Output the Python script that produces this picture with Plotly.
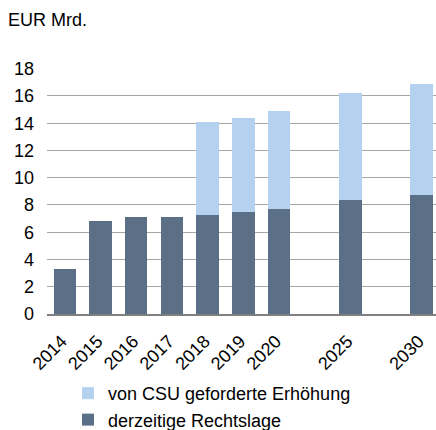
import plotly.graph_objects as go

categories = ["2014", "2015", "2016", "2017", "2018", "2019", "2020", " ", "2025", "  ", "2030"]
rechtslage = [3.3, 6.8, 7.1, 7.1, 7.3, 7.5, 7.7, None, 8.4, None, 8.7]
erhoehung = [None, None, None, None, 6.8, 6.9, 7.2, None, 7.8, None, 8.2]
y_ticks = [0, 2, 4, 6, 8, 10, 12, 14, 16, 18]

FONT = "Liberation Sans, Arial, sans-serif"
DARK = "#5B7086"
LIGHT = "#B4D2EF"

W, H = 436, 430
L, R, T, B = 47, 0, 68, 116
PW, PH = W - L - R, H - T - B

fig = go.Figure()
fig.add_trace(go.Bar(x=categories, y=rechtslage, name="derzeitige Rechtslage",
                     marker=dict(color=DARK, line=dict(width=0)), width=0.63))
fig.add_trace(go.Bar(x=categories, y=erhoehung, name="von CSU geforderte Erhöhung",
                     marker=dict(color=LIGHT, line=dict(width=0)), width=0.63))

fig.update_layout(
    barmode="stack",
    width=W, height=H,
    margin=dict(l=L, r=R, t=T, b=B, autoexpand=False),
    plot_bgcolor="white", paper_bgcolor="white",
    font=dict(family=FONT, size=18, color="#000000"),
    showlegend=True,
    legend=dict(x=(68 - L) / PW, y=-(375 - T - PH) / PH,
                xanchor="left", yanchor="top", traceorder="reversed",
                font=dict(size=18), itemwidth=30, tracegroupgap=0,
                bgcolor="rgba(0,0,0,0)"),
    annotations=[dict(text="EUR Mrd.", xref="paper", yref="paper",
                      x=-(L - 6) / PW, y=1 + (T - 32) / PH, xanchor="left", yanchor="bottom",
                      showarrow=False, font=dict(size=18, family=FONT))],
    xaxis=dict(type="category", categoryorder="array", categoryarray=categories,
               range=[-0.5, 10.4], tickangle=-45, showgrid=False,
               showline=True, linecolor="#808080", linewidth=1.5,
               ticks="", tickfont=dict(size=18), ticklabelstandoff=8, ticklabelshift=-3),
    yaxis=dict(range=[0, 18.05], tickvals=y_ticks, showgrid=True, gridcolor="#A6A6A6",
               gridwidth=1, zeroline=False, showline=False, ticks="",
               tickfont=dict(size=18), ticklabelstandoff=12),
)

fig.write_html("out.html", config={"displayModeBar": False},
               post_script="document.body.style.margin='0';document.body.style.overflow='hidden';")
